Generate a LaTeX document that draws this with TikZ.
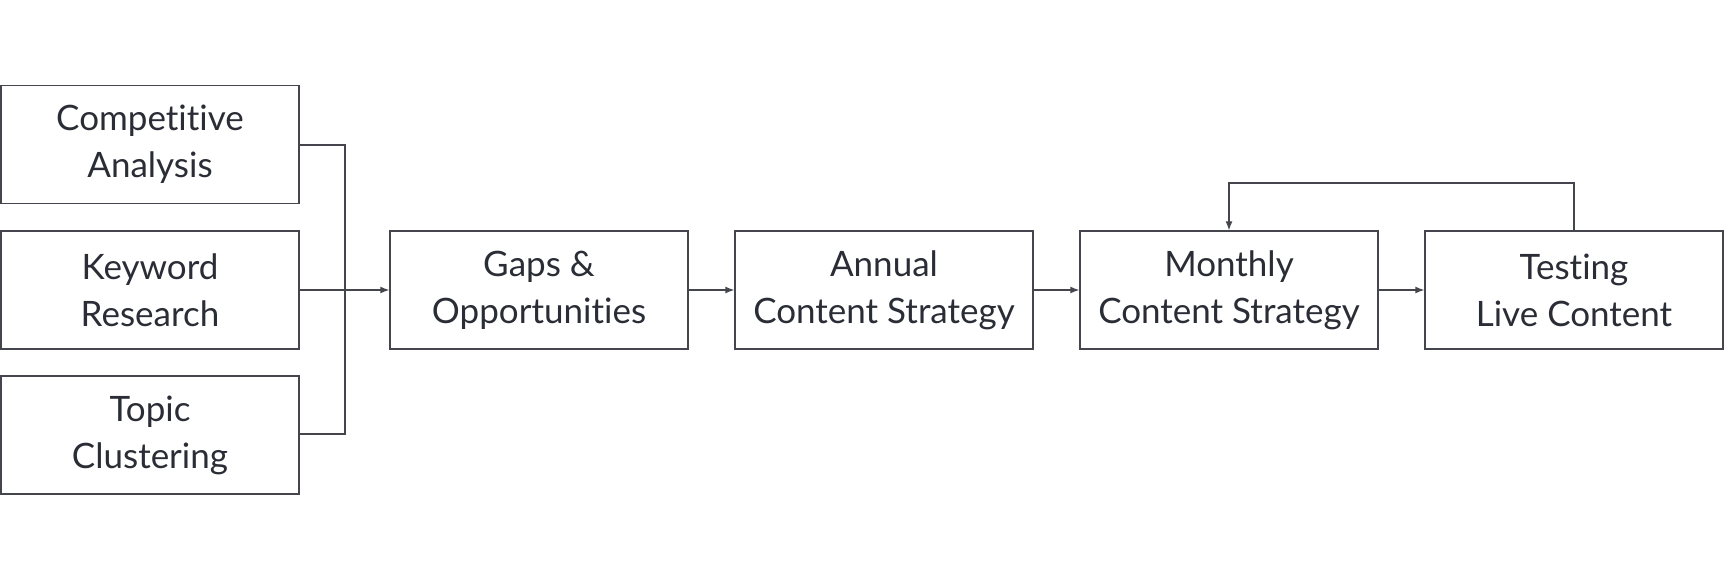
\documentclass[tikz,border=0pt]{standalone}
\usepackage{fontspec}
\setmainfont[Ligatures={NoCommon}]{Lato}
\usetikzlibrary{arrows.meta}
\definecolor{txt}{HTML}{2B2D36}
\definecolor{ln}{HTML}{45464D}
\begin{document}
\begin{tikzpicture}[x=1pt,y=-1pt,
  box/.style={draw=ln,line width=1.3pt,minimum width=298pt,minimum height=118pt,inner sep=0pt,
    align=center,text=txt,font=\fontsize{35pt}{47pt}\selectfont},
  conn/.style={draw=ln,line width=1.3pt},
  arr/.style={conn,-{Latex[length=9pt,width=7pt]}}]
\useasboundingbox (0,0) rectangle (1733,580);
\node[box] (comp) at (150,144.5) {Competitive\\Analysis};
\node[box] (key) at (150,290) {Keyword\\Research};
\node[box] (topic) at (150,435) {Topic\\Clustering};
\node[box] (gaps) at (539,290) {Gaps \&\\Opportunities};
\node[box] (annual) at (884,290) {Annual\\Content Strategy};
\node[box] (monthly) at (1229,290) {Monthly\\Content Strategy};
\node[box] (test) at (1574,290) {Testing\\Live Content};
\coordinate (j) at (345,290);
\coordinate (top) at (1229,183);
\draw[conn] (comp.east |- 0,145) -| (j);
\draw[conn] (topic.east |- 0,434) -| (j);
\draw[arr] (key.east) -- (gaps.west);
\draw[arr] (gaps.east) -- (annual.west);
\draw[arr] (annual.east) -- (monthly.west);
\draw[arr] (monthly.east) -- (test.west);
\draw[arr] (test.north) |- (top) -- (monthly.north);
\end{tikzpicture}
\end{document}
